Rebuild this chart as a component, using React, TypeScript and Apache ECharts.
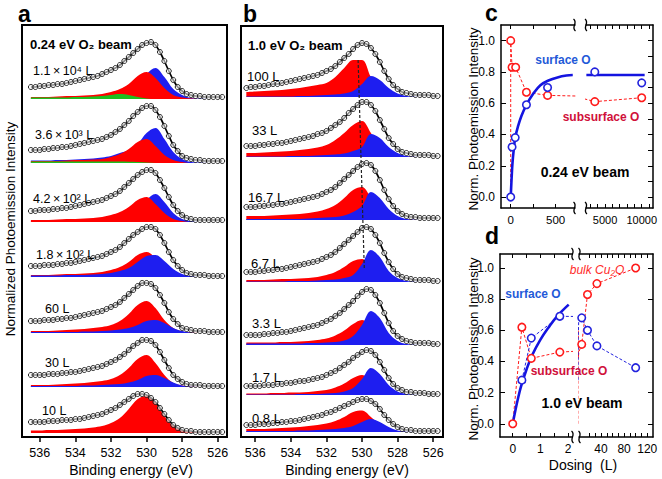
import React, { useEffect, useRef } from "react";
import * as echarts from "echarts";

// ---------- energy grids (eV) ----------
const FIT_E = [536.5, 536.25, 536, 535.75, 535.5, 535.25, 535, 534.75, 534.5, 534.25, 534, 533.75, 533.5, 533.25, 533, 532.75, 532.5, 532.25, 532, 531.75, 531.5, 531.25, 531, 530.75, 530.5, 530.25, 530, 529.75, 529.5, 529.25, 529, 528.75, 528.5, 528.25, 528, 527.75, 527.5, 527.25, 527, 526.75, 526.5, 526.25, 526, 525.75];
const COMP_E = [536.5, 536, 535.5, 535, 534.5, 534, 533.5, 533, 532.5, 532, 531.5, 531, 530.5, 530, 529.5, 529, 528.5, 528, 527.5, 527, 526.5, 526, 525.5];
const BE_TICKS = [526, 528, 530, 532, 534, 536];

// ---------- panel a : 0.24 eV beam ----------
const A_LABELS = ["1.1\u2009×\u200910⁴ L", "3.6\u2009×\u200910³ L", "4.2\u2009×\u200910² L", "1.8\u2009×\u200910² L", "60 L", "30 L", "10 L"];
const A_OFFSETS = [338, 274, 215, 160, 104, 50, 4];
const A_FIT = [
  [12, 12, 13, 13, 14, 14, 15, 15, 16, 17, 18, 19, 20, 21, 22, 23, 25, 27, 29, 31, 34, 38, 42, 46, 50, 54, 56, 57, 54, 47, 38, 28, 19, 12, 8, 5, 4, 3, 3, 2, 2, 2, 2, 2],
  [13, 13, 13, 14, 14, 15, 15, 16, 16, 17, 18, 19, 20, 21, 22, 23, 24, 26, 28, 31, 34, 38, 42, 47, 51, 55, 57, 57, 53, 46, 37, 27, 18, 12, 7, 5, 4, 3, 3, 2, 2, 2, 2, 2],
  [11, 11, 12, 12, 12, 13, 13, 14, 14, 15, 16, 17, 18, 19, 20, 21, 22, 24, 26, 28, 31, 35, 39, 43, 47, 50, 52, 52, 49, 42, 34, 25, 17, 11, 7, 4, 3, 2, 2, 2, 2, 2, 2, 2],
  [11, 11, 11, 12, 12, 12, 13, 13, 14, 14, 15, 16, 17, 18, 19, 20, 21, 23, 25, 27, 30, 34, 38, 42, 45, 48, 50, 50, 48, 42, 34, 25, 17, 11, 7, 4, 3, 2, 2, 2, 1, 1, 1, 1],
  [12, 12, 12, 13, 13, 13, 14, 14, 15, 15, 16, 17, 18, 19, 20, 21, 22, 24, 26, 28, 31, 35, 39, 43, 47, 50, 50, 49, 45, 38, 30, 21, 14, 9, 5, 4, 3, 2, 2, 2, 1, 1, 1, 1],
  [12, 12, 12, 12, 13, 13, 13, 14, 14, 15, 15, 16, 17, 18, 19, 20, 21, 23, 25, 27, 30, 33, 37, 41, 44, 47, 47, 46, 42, 35, 27, 19, 12, 8, 5, 3, 2, 2, 2, 1, 1, 1, 1, 1],
  [11, 11, 11, 11, 12, 12, 12, 13, 13, 13, 14, 14, 15, 16, 17, 18, 19, 21, 23, 25, 28, 31, 34, 37, 39, 39, 38, 35, 31, 25, 19, 13, 8, 5, 3, 2, 2, 1, 1, 1, 1, 1, 1, 1],
];
const A_RED = [
  [2, 2, 2, 2.5, 3, 3, 3.5, 4, 5, 7, 10, 15, 23, 27, 21, 11, 4, 1.5, 0.5, 0, 0, 0, 0],
  [2, 2, 2, 2, 2.5, 3, 3, 3.5, 4, 6, 9, 14, 21, 24, 17, 8, 3, 1, 0, 0, 0, 0, 0],
  [2, 2, 2, 2.5, 3, 3, 3.5, 4, 5, 7, 10, 15, 22, 25, 18, 9, 3, 1, 0, 0, 0, 0, 0],
  [2, 2, 2, 2.5, 3, 3, 3.5, 4, 5, 7, 10, 15, 22, 25, 19, 9, 3, 1, 0, 0, 0, 0, 0],
  [2, 2, 2, 2.5, 3, 3.5, 4, 5, 6, 8, 12, 19, 28, 32, 25, 13, 5, 1.5, 0.5, 0, 0, 0, 0],
  [2, 2, 2, 2.5, 3, 3.5, 4, 5, 6, 8, 12, 19, 28, 32, 24, 12, 4, 1.5, 0.5, 0, 0, 0, 0],
  [2.5, 2.5, 3, 3, 3.5, 4, 4.5, 5.5, 7, 10, 15, 24, 34, 37, 30, 17, 7, 2.5, 1, 0.5, 0, 0, 0],
];
const A_BLUE: (number[] | null)[] = [
  [0.5, 0.5, 0.5, 0.5, 0.5, 0.5, 0.5, 1, 1, 1.5, 2.5, 5, 14, 25, 31, 22, 10, 4, 1, 0.5, 0, 0, 0],
  [2.5, 2.5, 2.5, 3, 3, 3.5, 4, 4.5, 5.5, 7, 10, 13, 19, 30, 35, 24, 11, 4, 1, 0.5, 0, 0, 0],
  [0.5, 0.5, 0.5, 0.5, 0.5, 0.5, 1, 1, 1, 1.5, 2.5, 5, 13, 22, 28, 20, 9, 3, 1, 0, 0, 0, 0],
  [1.5, 1.5, 1.5, 1.5, 2, 2, 2, 2.5, 3, 4, 6, 9, 15, 21, 22, 16, 8, 3, 1, 0, 0, 0, 0],
  [1, 1, 1, 1, 1, 1, 1.5, 1.5, 2, 2.5, 3.5, 5, 8, 12, 13, 10, 5, 2, 0.5, 0, 0, 0, 0],
  [1, 1, 1, 1, 1, 1, 1.5, 1.5, 2, 2.5, 3, 4.5, 7, 11, 12, 9, 4.5, 1.5, 0.5, 0, 0, 0, 0],
  null,
];
const A_GREEN: (number[] | null)[] = [
  [1.5, 1.5, 1.5, 1.5, 1.5, 2, 2, 2.5, 3, 4, 5, 4, 2, 0.5, 0, 0, 0, 0, 0, 0, 0, 0, 0],
  [1.5, 1.5, 1.5, 1.5, 1.5, 1.5, 1.5, 1.5, 1.5, 1.5, 1.5, 1.2, 1, 0.5, 0, 0, 0, 0, 0, 0, 0, 0, 0],
  null, null, null, null, null,
];
const A_BLUE_ON_TOP = [false, false, false, true, true, true, false];

// ---------- panel b : 1.0 eV beam ----------
const B_LABELS = ["100 L", "33 L", "16.7 L", "6.7 L", "3.3 L", "1.7 L", "0.8 L"];
const B_OFFSETS = [340, 280, 217, 155, 92, 42, 5];
const B_FIT = [
  [9, 10, 10, 11, 11, 12, 13, 13, 14, 15, 16, 17, 18, 19, 20, 21, 22, 24, 26, 28, 31, 35, 39, 43, 48, 52, 54, 53, 49, 43, 35, 26, 18, 12, 8, 5, 4, 3, 2, 2, 2, 2, 1, 1],
  [11, 11, 11, 12, 12, 13, 13, 14, 14, 15, 16, 17, 18, 19, 20, 21, 23, 24, 26, 29, 32, 35, 39, 44, 48, 52, 55, 55, 52, 46, 37, 28, 19, 13, 8, 5, 4, 3, 2, 2, 2, 2, 1, 1],
  [13, 13, 13, 14, 14, 15, 15, 16, 16, 17, 18, 19, 20, 21, 22, 23, 24, 26, 28, 30, 33, 37, 41, 45, 49, 53, 56, 57, 55, 49, 40, 30, 21, 14, 9, 6, 4, 3, 3, 2, 2, 2, 2, 2],
  [10, 10, 10, 11, 11, 12, 12, 13, 13, 14, 15, 16, 17, 18, 19, 20, 21, 23, 25, 27, 30, 34, 38, 42, 46, 50, 54, 55, 53, 47, 39, 29, 20, 13, 8, 5, 4, 3, 2, 2, 2, 2, 1, 1],
  [10, 10, 10, 10, 11, 11, 12, 12, 13, 13, 14, 15, 16, 17, 18, 19, 20, 22, 24, 26, 29, 32, 36, 40, 44, 49, 53, 56, 55, 50, 42, 32, 22, 14, 9, 6, 4, 3, 2, 2, 2, 2, 1, 1],
  [9, 9, 9, 9, 10, 10, 10, 11, 11, 12, 12, 13, 14, 14, 15, 16, 17, 18, 20, 22, 24, 27, 30, 33, 37, 40, 43, 45, 44, 40, 33, 25, 17, 11, 7, 5, 3, 3, 2, 2, 2, 1, 1, 1],
  [7, 7, 7, 8, 8, 8, 9, 9, 10, 10, 11, 11, 12, 13, 14, 15, 16, 17, 19, 20, 22, 24, 26, 28, 30, 32, 33, 33, 31, 28, 23, 17, 12, 8, 5, 3, 2, 2, 1, 1, 1, 1, 1, 1],
];
const B_RED = [
  [5, 5.5, 6, 6.5, 7, 8, 9, 10.5, 12, 14, 20, 29, 37, 37, 20, 8, 3, 1, 0, 0, 0, 0, 0],
  [4, 4, 4.5, 5, 5.5, 6, 7, 8, 9.5, 12, 17, 24, 32, 36, 24, 10, 3.5, 1.5, 0.5, 0, 0, 0, 0],
  [4, 4, 4, 4.5, 5, 5.5, 6, 7, 8.5, 11, 15, 22, 30, 33, 22, 9, 3.5, 1.5, 0.5, 0, 0, 0, 0],
  [2, 2, 2, 2.5, 3, 3, 3.5, 4, 5, 7, 10, 15, 21, 23, 15, 6, 2, 0.5, 0, 0, 0, 0, 0],
  [2.5, 2.5, 2.5, 2.5, 3, 3, 3.5, 4, 5, 6.5, 9.5, 14.5, 21, 25, 19, 9, 3, 1, 0, 0, 0, 0, 0],
  [1.5, 1.5, 1.5, 2, 2, 2.5, 2.5, 3, 4, 5, 7.5, 11.5, 17, 20, 15, 7, 2.5, 1, 0, 0, 0, 0, 0],
  [3, 3, 3, 3.5, 4, 4.5, 5, 6, 7, 8.5, 11, 15, 20, 21.5, 15, 7, 2.5, 1, 0, 0, 0, 0, 0],
];
const B_BLUE: (number[] | null)[] = [
  [0.5, 0.5, 0.5, 0.5, 0.5, 0.5, 1, 1, 1.5, 2, 2.5, 3.5, 6, 13, 21, 17, 9, 3.5, 1, 0.3, 0, 0, 0],
  [0.5, 0.5, 0.5, 0.5, 0.5, 1, 1, 1, 1.5, 2, 2.5, 3.5, 6, 10, 23, 19, 10, 4, 1, 0.3, 0, 0, 0],
  [1, 1, 1, 1, 1, 1, 1, 1.5, 2, 2.5, 3, 4.5, 8, 14, 28, 22, 11, 4, 1, 0.3, 0, 0, 0],
  [0.5, 0.5, 0.5, 0.5, 0.5, 1, 1, 1, 1.5, 2, 2.5, 4, 7, 18, 32, 25, 11, 4, 1, 0.3, 0, 0, 0],
  [1.5, 1.5, 1.5, 1.5, 1.5, 1.5, 1.5, 2, 2, 2.5, 3, 4.5, 9, 20, 34, 27, 12, 4, 1, 0.3, 0, 0, 0],
  [0.5, 0.5, 0.5, 0.5, 0.5, 0.5, 1, 1, 1, 1.5, 2, 3.5, 7, 16, 27, 21, 10, 3.5, 1, 0.3, 0, 0, 0],
  [1, 1, 1, 1, 1, 1, 1.5, 1.5, 2, 2.5, 3, 4, 6, 10, 13, 10, 5, 1.5, 0.5, 0, 0, 0, 0],
];
const B_GREEN: (number[] | null)[] = [null, null, null, null, null, null, null];
const B_BLUE_ON_TOP = [true, true, true, true, true, true, true];
const B_DASH = [[530.22, 377], [529.87, 167]];

// ---------- panel c : intensity vs dose, 0.24 eV ----------
const C_SURF_DOSE = [0, 15, 50, 175, 410, 3600, 10000];
const C_SURF_VAL = [0, 0.32, 0.38, 0.59, 0.7, 0.8, 0.73];
const C_SUB_DOSE = [0, 0, 15, 55, 175, 410, 3600, 10000];
const C_SUB_VAL = [0, 1.0, 0.83, 0.83, 0.67, 0.65, 0.61, 0.635];
const C_FIT_DOSE = [0, 10, 20, 35, 50, 80, 120, 175, 250, 330, 420, 520, 620, 690];
const C_FIT_VAL = [0, 0.12, 0.22, 0.31, 0.38, 0.45, 0.52, 0.59, 0.66, 0.715, 0.745, 0.765, 0.777, 0.78];
const C_FIT2_DOSE = [2450, 10400];
const C_FIT2_VAL = [0.78, 0.78];
const C_XL_TICKS = [0, 250, 500];
const C_XL_LABELS = [0, 500];
const C_XR_TICKS = [3000, 4000, 5000, 6000, 7000, 8000, 9000, 10000, 11000];
const C_XR_LABELS = [5000, 10000];

// ---------- panel d : intensity vs dose, 1.0 eV ----------
const D_SURF_DOSE = [0.33, 0.67, 1.7, 6.7, 16.7, 33, 100];
const D_SURF_VAL = [0.28, 0.55, 0.69, 0.68, 0.6, 0.5, 0.36];
const D_SUB_DOSE = [0, 0.33, 0.67, 1.7, 6.7, 16.7, 33, 100];
const D_SUB_VAL = [0, 0.62, 0.42, 0.46, 0.51, 0.83, 0.9, 1.0];
const D_FIT_DOSE = [0, 0.1, 0.2, 0.3, 0.5, 0.7, 1.0, 1.3, 1.6, 2.02];
const D_FIT_VAL = [0, 0.09, 0.17, 0.24, 0.35, 0.44, 0.54, 0.62, 0.69, 0.765];
const D_XL_TICKS = [0, 0.5, 1, 1.5, 2];
const D_XL_LABELS = [0, 1, 2];
const D_XR_TICKS = [20, 30, 40, 50, 60, 70, 80, 90, 100, 110, 120];
const D_XR_LABELS = [40, 80, 120];
const Y_TICKS = [0, 0.2, 0.4, 0.6, 0.8, 1.0];
const Y_TICKS_FINE = [0, 0.1, 0.2, 0.3, 0.4, 0.5, 0.6, 0.7, 0.8, 0.9, 1.0];

// ---------- styles ----------
const FONT = 'Arial, "Liberation Sans", Helvetica, sans-serif';
const RED = "#ff0000";
const BLUE = "#1e1ef0";
const GREEN = "#1fbf1f";
const RED_PT = "#ff1a1a";
const BLUE_PT = "#2222dd";
const BLUE_LINE = "#1414e0";
const TXT_BLUE = "#1f5ad8";
const TXT_CRIMSON = "#d0103a";

function spectrumSeries(axis: number, offsets: number[], fits: number[][], reds: number[][], blues: (number[] | null)[], greens: (number[] | null)[], blueOnTop: boolean[]) {
  const out: any[] = [];
  offsets.forEach((off, k) => {
    const area = (vals: number[], color: string) => ({
      type: "line", xAxisIndex: axis, yAxisIndex: axis,
      data: COMP_E.map((e, i) => [e, off + vals[i]]),
      smooth: 0.35, symbol: "none", silent: true,
      lineStyle: { width: 0, opacity: 0 },
      areaStyle: { color, opacity: 1, origin: off },
      z: 2,
    });
    const b = blues[k] ? area(blues[k] as number[], BLUE) : null;
    if (b && !blueOnTop[k]) out.push(b);
    out.push(area(reds[k], RED));
    if (b && blueOnTop[k]) out.push(b);
    if (greens[k]) out.push(area(greens[k] as number[], GREEN));
    out.push({
      type: "line", xAxisIndex: axis, yAxisIndex: axis,
      data: FIT_E.map((e, i) => [e, off + fits[k][i]]),
      smooth: 0.3, symbol: "circle", symbolSize: 5, showSymbol: true, showAllSymbol: true,
      lineStyle: { color: "#000", width: 1.7 },
      itemStyle: { color: "rgba(255,255,255,0.55)", borderColor: "#111", borderWidth: 0.9 },
      silent: true, z: 3,
    });
  });
  return out;
}

function specXAxis(gridIndex: number, min: number, max: number) {
  return {
    type: "value", gridIndex, min, max, inverse: true, position: "bottom",
    axisLine: { show: true, lineStyle: { color: "#000", width: 2 } },
    axisTick: { show: true, inside: false, length: 5, lineStyle: { color: "#000", width: 1.5 }, customValues: BE_TICKS },
    axisLabel: { show: true, customValues: BE_TICKS, margin: 9, fontSize: 12.5, color: "#000", fontFamily: FONT },
    splitLine: { show: false },
  };
}

function doseXAxis(gridIndex: number, min: number, max: number, ticks: number[], labels: number[], position: string, fontSize: number) {
  return {
    type: "value", gridIndex, min, max, position,
    axisLine: { show: true, onZero: false, lineStyle: { color: "#000", width: 1.5 } },
    axisTick: { show: true, inside: true, length: 4, lineStyle: { color: "#000", width: 1 }, customValues: ticks },
    axisLabel: { show: position === "bottom", customValues: labels, margin: 6, fontSize, color: "#000", fontFamily: FONT, formatter: (v: number) => String(v) },
    splitLine: { show: false },
  };
}

function normYAxis(gridIndex: number, min: number, max: number, position: string, ticks: number[]) {
  return {
    type: "value", gridIndex, min, max, position,
    axisLine: { show: true, onZero: false, lineStyle: { color: "#000", width: 1.5 } },
    axisTick: { show: true, inside: true, length: 5, lineStyle: { color: "#000", width: 1 }, customValues: ticks },
    axisLabel: { show: position === "left", customValues: Y_TICKS, margin: 6, fontSize: 12, color: "#000", fontFamily: FONT, formatter: (v: number) => v.toFixed(1) },
    splitLine: { show: false },
  };
}

function pointsIn(xs: number[], ys: number[], min: number, max: number) {
  const pts: number[][] = [];
  xs.forEach((x, i) => { if (x >= min && x <= max) pts.push([x, ys[i]]); });
  return pts;
}

function doseSeries(xi: number, yi: number, min: number, max: number, opt: { subX: number[]; subY: number[]; surfX: number[]; surfY: number[]; fitX: number[]; fitY: number[]; surfDashed: boolean; subSkipFirst: boolean }) {
  const s: any[] = [];
  s.push({
    type: "line", xAxisIndex: xi, yAxisIndex: yi, data: opt.subX.map((x, i) => [x, opt.subY[i]]),
    symbol: "none", lineStyle: { color: RED_PT, width: 1, type: [3, 2] }, silent: true, z: 2, clip: true,
  });
  if (opt.surfDashed) {
    s.push({
      type: "line", xAxisIndex: xi, yAxisIndex: yi, data: opt.surfX.map((x, i) => [x, opt.surfY[i]]),
      symbol: "none", lineStyle: { color: BLUE_PT, width: 1, type: [3, 2] }, silent: true, z: 2, clip: true,
    });
  }
  const fit = pointsIn(opt.fitX, opt.fitY, min - 1e-9, max + 1e-9);
  if (fit.length) {
    s.push({
      type: "line", xAxisIndex: xi, yAxisIndex: yi, data: fit, smooth: 0.4,
      symbol: "none", lineStyle: { color: BLUE_LINE, width: 2.6 }, silent: true, z: 3, clip: true,
    });
  }
  const subPts = opt.subX.map((x, i) => [x, opt.subY[i]]).filter((p, i) => !(opt.subSkipFirst && i === 0) && p[0] >= min && p[0] <= max);
  s.push({
    type: "scatter", xAxisIndex: xi, yAxisIndex: yi, data: subPts, symbol: "circle", symbolSize: 7.5,
    itemStyle: { color: "#fff", borderColor: RED_PT, borderWidth: 1.6, opacity: 1 }, silent: true, z: 4,
  });
  s.push({
    type: "scatter", xAxisIndex: xi, yAxisIndex: yi, data: pointsIn(opt.surfX, opt.surfY, min, max), symbol: "circle", symbolSize: 7.5,
    itemStyle: { color: "#fff", borderColor: BLUE_PT, borderWidth: 1.6, opacity: 1 }, silent: true, z: 5,
  });
  return s;
}

function text(x: number, y: number, t: string, o: any = {}) {
  return {
    type: "text", x, y, silent: true, rotation: o.rotation || 0, z: 50,
    style: {
      text: t, fontFamily: FONT, fontSize: o.fontSize || 12, fontWeight: o.fontWeight || "normal", fontStyle: o.fontStyle || "normal",
      fill: o.fill || "#000", align: o.align || "left", verticalAlign: "middle",
    },
  };
}

function squiggle(x: number, y: number) {
  return {
    type: "bezierCurve", silent: true, z: 50,
    shape: { x1: x - 1, y1: y - 6, cpx1: x + 4, cpy1: y - 2, cpx2: x - 4, cpy2: y + 2, x2: x + 1, y2: y + 6 },
    style: { stroke: "#000", lineWidth: 1.3, fill: null },
  };
}

function buildOption() {
  const A_LABEL_POS = [[33, 71], [35, 135], [33, 199], [36, 255], [45, 309], [45, 363], [42, 411]];
  const B_LABEL_POS = [[247, 76], [252, 130], [248, 197], [251, 263], [252, 323], [252, 377], [252, 418]];

  const graphic: any[] = [
    text(18, 14, "a", { fontSize: 23, fontWeight: "bold" }),
    text(243, 14, "b", { fontSize: 23, fontWeight: "bold" }),
    text(485, 13, "c", { fontSize: 23, fontWeight: "bold" }),
    text(485, 236, "d", { fontSize: 23, fontWeight: "bold" }),
    text(10, 229, "Normalized Photoemission Intensity", { fontSize: 13.5, rotation: Math.PI / 2, align: "center" }),
    text(131, 470, "Binding energy (eV)", { fontSize: 14, align: "center" }),
    text(347, 470, "Binding energy (eV)", { fontSize: 14, align: "center" }),
    text(30, 44, "0.24 eV O₂ beam", { fontSize: 13, fontWeight: "bold" }),
    text(248, 45, "1.0 eV O₂ beam", { fontSize: 13, fontWeight: "bold" }),
    text(473, 119, "Norm. Photoemission Intensity", { fontSize: 13.5, rotation: Math.PI / 2, align: "center" }),
    text(473, 349, "Norm. Photoemission Intensity", { fontSize: 13.5, rotation: Math.PI / 2, align: "center" }),
    text(563, 60, "surface O", { fontSize: 12, fontWeight: "bold", fill: TXT_BLUE, align: "center" }),
    text(601, 117, "subsurface O", { fontSize: 12, fontWeight: "bold", fill: TXT_CRIMSON, align: "center" }),
    text(585, 172, "0.24 eV beam", { fontSize: 14, fontWeight: "bold", align: "center" }),
    text(597, 270, "bulk Cu₂O", { fontSize: 12, fontStyle: "italic", fill: "#ff2b2b", align: "center" }),
    text(533, 294, "surface O", { fontSize: 12, fontWeight: "bold", fill: TXT_BLUE, align: "center" }),
    text(569, 371, "subsurface O", { fontSize: 12, fontWeight: "bold", fill: TXT_CRIMSON, align: "center" }),
    text(582, 403, "1.0 eV beam", { fontSize: 14, fontWeight: "bold", align: "center" }),
    text(583, 465, "Dosing  (L)", { fontSize: 14, align: "center" }),
    squiggle(574.5, 25), squiggle(586, 25), squiggle(574.5, 208), squiggle(586, 208),
    squiggle(572.5, 254), squiggle(579.5, 254), squiggle(572.5, 437), squiggle(579.5, 437),
  ];
  A_LABELS.forEach((t, i) => graphic.push(text(A_LABEL_POS[i][0], A_LABEL_POS[i][1], t, { fontSize: 12.5 })));
  B_LABELS.forEach((t, i) => graphic.push(text(B_LABEL_POS[i][0], B_LABEL_POS[i][1], t, { fontSize: 13 })));

  const gridBox = { show: true, borderColor: "#000", borderWidth: 2, backgroundColor: "transparent" };
  const series: any[] = [
    ...spectrumSeries(0, A_OFFSETS, A_FIT, A_RED, A_BLUE, A_GREEN, A_BLUE_ON_TOP),
    ...spectrumSeries(1, B_OFFSETS, B_FIT, B_RED, B_BLUE, B_GREEN, B_BLUE_ON_TOP),
    {
      type: "line", xAxisIndex: 1, yAxisIndex: 1, data: B_DASH, symbol: "none", silent: true,
      lineStyle: { color: "#222", width: 1.2, type: [3, 2] }, z: 4,
    },
    ...doseSeries(2, 2, -108, 715, { subX: C_SUB_DOSE, subY: C_SUB_VAL, surfX: C_SURF_DOSE, surfY: C_SURF_VAL, fitX: C_FIT_DOSE, fitY: C_FIT_VAL, surfDashed: false, subSkipFirst: true }),
    ...doseSeries(4, 3, 2400, 11540, { subX: C_SUB_DOSE, subY: C_SUB_VAL, surfX: C_SURF_DOSE, surfY: C_SURF_VAL, fitX: C_FIT2_DOSE, fitY: C_FIT2_VAL, surfDashed: false, subSkipFirst: true }),
    ...doseSeries(6, 4, -0.46, 2.14, { subX: D_SUB_DOSE, subY: D_SUB_VAL, surfX: D_SURF_DOSE, surfY: D_SURF_VAL, fitX: D_FIT_DOSE, fitY: D_FIT_VAL, surfDashed: true, subSkipFirst: false }),
    ...doseSeries(8, 5, 2, 130, { subX: D_SUB_DOSE, subY: D_SUB_VAL, surfX: D_SURF_DOSE, surfY: D_SURF_VAL, fitX: [], fitY: [], surfDashed: true, subSkipFirst: false }),
  ];

  return {
    animation: false,
    backgroundColor: "#fff",
    textStyle: { fontFamily: FONT },
    grid: [
      { left: 22, top: 25, width: 205, height: 412, ...gridBox },
      { left: 241, top: 26, width: 202, height: 411, ...gridBox },
      { left: 501, top: 25, width: 74, height: 183 },
      { left: 586, top: 25, width: 67, height: 183 },
      { left: 500, top: 254, width: 72, height: 183 },
      { left: 579, top: 254, width: 74, height: 183 },
    ],
    xAxis: [
      specXAxis(0, 525.48, 537.0),
      specXAxis(1, 525.45, 536.8),
      doseXAxis(2, -108, 715, C_XL_TICKS, C_XL_LABELS, "bottom", 11.5),
      doseXAxis(2, -108, 715, C_XL_TICKS, C_XL_LABELS, "top", 11.5),
      doseXAxis(3, 2400, 11540, C_XR_TICKS, C_XR_LABELS, "bottom", 11),
      doseXAxis(3, 2400, 11540, C_XR_TICKS, C_XR_LABELS, "top", 11),
      doseXAxis(4, -0.46, 2.14, D_XL_TICKS, D_XL_LABELS, "bottom", 12),
      doseXAxis(4, -0.46, 2.14, D_XL_TICKS, D_XL_LABELS, "top", 12),
      doseXAxis(5, 2, 130, D_XR_TICKS, D_XR_LABELS, "bottom", 12),
      doseXAxis(5, 2, 130, D_XR_TICKS, D_XR_LABELS, "top", 12),
    ],
    yAxis: [
      { type: "value", gridIndex: 0, min: 0, max: 412, show: false },
      { type: "value", gridIndex: 1, min: 0, max: 411, show: false },
      normYAxis(2, -0.07, 1.1, "left", Y_TICKS),
      normYAxis(3, -0.07, 1.1, "right", Y_TICKS_FINE),
      normYAxis(4, -0.085, 1.09, "left", Y_TICKS),
      normYAxis(5, -0.085, 1.09, "right", Y_TICKS),
    ],
    series,
    graphic,
  };
}

export default function App() {
  const ref = useRef<HTMLDivElement>(null);
  useEffect(() => {
    if (!ref.current) return;
    const chart = echarts.init(ref.current, null, { renderer: "svg" });
    chart.setOption(buildOption() as any);
    return () => chart.dispose();
  }, []);
  return <div ref={ref} style={{ position: "absolute", left: 0, top: 0, width: 662, height: 479, background: "#fff" }} />;
}
